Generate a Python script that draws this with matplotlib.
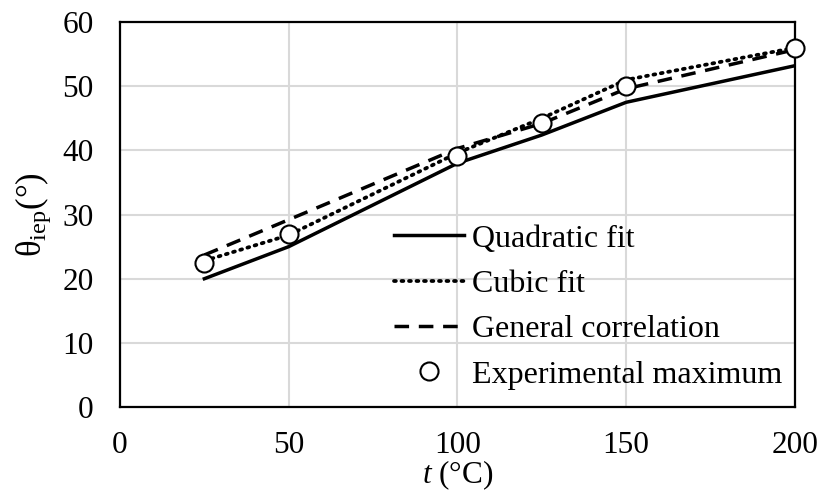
import matplotlib
matplotlib.use("Agg")
import matplotlib.pyplot as plt

plt.rcParams['font.family'] = ['Liberation Serif', 'DejaVu Serif']
plt.rcParams['mathtext.fontset'] = 'custom'
plt.rcParams['mathtext.rm'] = 'Liberation Serif'
plt.rcParams['mathtext.it'] = 'Liberation Serif:italic'

t = [25, 50, 100, 125, 150, 200]
quadratic = [20.0, 25.0, 38.0, 42.4, 47.5, 53.2]
cubic = [22.8, 26.8, 39.6, 45.0, 51.0, 56.0]
general = [23.7, 29.2, 40.3, 44.2, 49.6, 55.7]
experimental = [22.5, 26.9, 39.2, 44.2, 50.0, 56.0]

xticks = [0, 50, 100, 150, 200]
yticks = [0, 10, 20, 30, 40, 50, 60]

fig = plt.figure(figsize=(8.22, 4.91), dpi=100)
ax = fig.add_axes([0.146, 0.171, 0.821, 0.784])

ax.plot(t, quadratic, color='black', lw=2.5, ls='-', label='Quadratic fit', zorder=3)
ax.plot(t, cubic, color='black', lw=2.7, ls=(0, (0.5, 1.5)), dash_capstyle='round',
        label='Cubic fit', zorder=3)
ax.plot(t, general, color='black', lw=2.5, ls=(0, (4.2, 2.8)), label='General correlation', zorder=3)
ax.plot(t, experimental, ls='none', marker='o', ms=13, mfc='white', mec='black', mew=1.5,
        label='Experimental maximum', zorder=4, clip_on=False)

ax.set_xlim(0, 200)
ax.set_ylim(0, 60)
ax.set_xticks(xticks)
ax.set_yticks(yticks)
ax.tick_params(axis='both', length=0, labelsize=22.5)
ax.tick_params(axis='y', pad=19)
ax.tick_params(axis='x', pad=17)
ax.grid(True, color='#d9d9d9', lw=1.5, zorder=0)
ax.set_axisbelow(True)
for s in ax.spines.values():
    s.set_linewidth(1.6)
    s.set_color('black')

ax.set_xlabel(r'$t$ (°C)', fontsize=22.5, labelpad=-1)
ax.set_ylabel(r'θ$_\mathregular{iep}$(°)', fontsize=25, labelpad=7)

leg = ax.legend(loc='lower right', frameon=False, fontsize=23, handlelength=2.2,
                handletextpad=0.25, labelspacing=0.5, borderaxespad=0.0,
                borderpad=0.2, bbox_to_anchor=(0.9905, 0.0286))

fig.savefig('out.png', dpi=100)
